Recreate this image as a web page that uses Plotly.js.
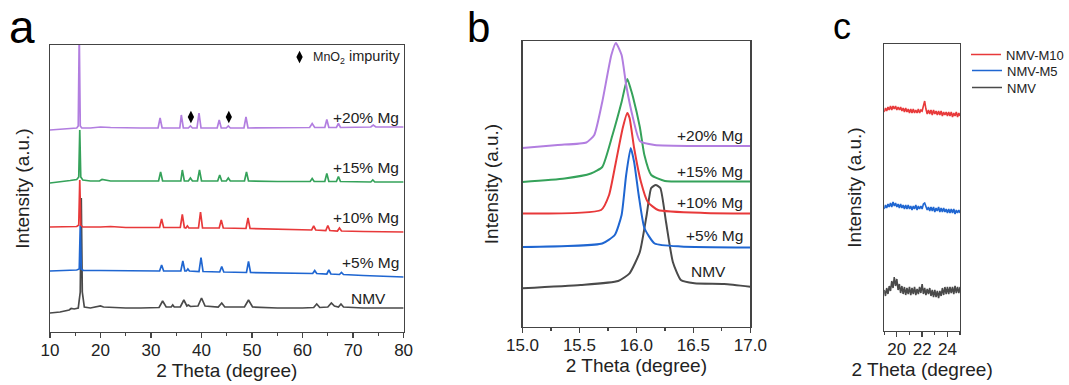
<!DOCTYPE html>
<html><head><meta charset="utf-8">
<script src="https://cdn.plot.ly/plotly-3.0.1.min.js"></script>
<style>html,body{margin:0;padding:0;background:#fff}#chart{width:1069px;height:385px}</style>
</head><body><div id="chart"></div>
<script>
// ---------- Panel a : full XRD patterns, 2θ 10–80° (offset intensity, a.u.) ----------
const aNMV_x = [10,12,13.8,14.2,14.8,15.6,16.0,16.2,16.4,16.8,18,19.5,20,20.6,22,25,28,31.6,32.3,33.0,34.0,34.3,34.6,35.8,36.5,37.1,37.4,37.8,39.3,40.0,40.7,43.3,44.0,44.6,48.5,49.3,50.1,55,60,62.2,62.8,63.4,65.0,65.7,66.3,67.1,67.6,68.1,72,76,80];
const aNMV_y = [19,20,22,23.5,23,24,40,134,40,25,24,25,26,25,24.5,24,24,24.5,31,25,25,27,25,25,32,26,27,25.5,26,34,26,25,29,25,25,32,25,24,24,24.5,28,24.5,25,29,26,25,28,25,24,24,24];

const aM5_x = [10,13,15.3,15.8,16.0,16.2,16.6,20,25,31.7,32.1,32.5,35.9,36.3,36.7,37.0,37.3,37.6,39.5,39.9,40.3,43.6,44.0,44.4,48.9,49.3,49.7,55,62.0,62.4,62.8,64.8,65.2,65.6,67.3,67.7,68.1,72,76,80];
const aM5_y = [61,61.5,62,63,107,63,61.5,61.5,61,61,67,61,61,71,61,61,63,61,60.5,74.5,60.5,60,65.5,60,59.5,70.5,59.5,59,58.5,61.5,58.5,58,62,58,57.5,59.5,57.5,56.5,55.5,55];

const aM10_x = [10,13,15.3,15.7,15.9,16.1,16.5,20,22,25,31.7,32.1,32.5,35.8,36.2,36.6,36.9,37.2,37.5,39.4,39.8,40.2,43.5,43.9,44.3,48.8,49.2,49.6,55,61.8,62.2,62.6,64.6,65.0,65.4,66.9,67.3,67.7,72,76,80];
const aM10_y = [105,105,105.5,107,152,107,105,105,105.5,104.5,104.5,113,104.5,104.5,117.5,104.5,104,106,104,104,120,104,104,112,104,103.5,114,103.5,103,102,106,102,101.5,106.5,101.5,101,104,101,100.5,100,100];

const aM15_x = [10,12,14,15.3,15.7,15.9,16.1,16.5,18,19.8,20.3,22,25,28,31.5,31.9,32.3,35.9,36.2,36.6,37.4,37.8,38.2,39.2,39.6,40.0,43.2,43.6,44.0,44.9,45.3,45.7,48.5,48.9,49.3,55,61.5,61.9,62.3,64.4,64.8,65.2,66.7,67.1,67.5,73.5,73.9,74.3,77,80];
const aM15_y = [149,150,151.5,152.5,155,202,155,152,151,151,152.5,151,151,151,151,160,151,151,162,151,151,154,151,151,162,151,151,157,151,151,154,151,151,160,151,150.5,150.5,153.5,150.5,150.5,158.5,150.5,150.5,155.5,150.5,150,152,150,150,150];

const aM20_x = [10,12,14,15.3,15.6,15.8,16.0,16.3,18,20,22,25,28,31.4,31.8,32.2,35.7,36.0,36.4,37.4,37.8,38.2,39.1,39.5,39.9,43.1,43.5,43.9,44.9,45.3,45.7,48.4,48.8,49.2,55,61.4,61.9,62.4,64.4,64.8,65.2,66.7,67.1,67.5,73.5,74.0,74.5,77,80];
const aM20_y = [202,203,203.5,204,206,300,206,204,204,205,204.5,204,204,204,214,204,204,217,204,204,206,204,204,219,204,204,212,204,204,206,204,204,215,204,204.5,204.5,208.5,204.5,204.5,212.5,204.5,204.5,208.5,204.5,205,207,205,205,205];

// MnO2 impurity markers (2θ) and their marker height
const mnoPeaks = [37.9, 45.4];
const mnoLevel = [215, 215];
const aLabels = ["NMV", "+5% Mg", "+10% Mg", "+15% Mg", "+20% Mg"];
const aLabelY = [34, 70, 115, 165, 215];

// ---------- Panel b : zoom on the (001) peak, 15–17° ----------
const bNMV_x = [15.0,15.51,15.84,15.94,16.03,16.09,16.13,16.17,16.21,16.26,16.32,16.39,16.51,16.77,17.0];
const bNMV_y = [38.7,42,46,53.7,75,112,139,142,139,105,65,47,43.7,43,40.3];
const bM5_x = [15.0,15.70,15.81,15.87,15.91,15.95,15.98,16.02,16.07,16.16,16.39,17.0];
const bM5_y = [80,83.5,92,112,152,179,165,132,99,83.5,80.5,79.5];
const bM10_x = [15.0,15.69,15.76,15.82,15.88,15.92,15.94,15.98,16.04,16.10,16.19,16.6,17.0];
const bM10_y = [113.5,117,132,165,199,214,209,179,145,125,117,114,113.5];
const bM15_x = [15.0,15.37,15.6,15.7,15.79,15.87,15.92,15.95,15.97,16.03,16.07,16.13,16.25,16.6,17.0];
const bM15_y = [145,148.5,153.5,160,192,225,248,238,230,200,172,152,146,145.5,145.5];
const bM20_x = [15.0,15.31,15.56,15.63,15.70,15.78,15.82,15.87,15.91,15.97,16.03,16.16,16.57,17.0];
const bM20_y = [179,182,184.5,192,225,272,284,272,242,209,186,182,181,181];
const bLabelY = [56, 92, 125, 156, 192];

// ---------- Panel c : 19–25° region ----------
const cTheta = [19.0,19.1,19.2,19.3,19.4,19.5,19.6,19.7,19.8,19.9,20.0,20.1,20.2,20.3,20.4,20.5,20.6,20.7,20.8,20.9,21.0,21.1,21.2,21.3,21.4,21.5,21.6,21.7,21.8,21.9,22.0,22.1,22.2,22.3,22.4,22.5,22.6,22.7,22.8,22.9,23.0,23.1,23.2,23.3,23.4,23.5,23.6,23.7,23.8,23.9,24.0,24.1,24.2,24.3,24.4,24.5,24.6,24.7,24.8,24.9,25.0];
const cM10 = [219,223,220,224,221,225,221,225,222,225,221,224,221,224,220,223,219,223,219,222,218,222,218,222,218,221,218,222,218,221,220,227,230,222,217,221,217,221,216,221,217,220,216,220,216,220,215,219,216,219,215,219,215,219,214,218,215,219,214,218,215];
const cM5 = [122,126,123,127,124,128,124,129,125,128,124,127,123,127,123,126,122,126,122,126,122,125,121,125,122,126,121,125,122,125,122,127,128,124,121,124,120,124,120,124,119,123,120,124,119,123,119,123,119,122,118,122,118,122,118,122,117,121,118,121,118];
const cNMV = [41,35,43,37,45,40,50,43,54,45,52,41,47,38,45,37,44,36,43,37,44,36,43,37,44,36,42,37,44,38,47,37,43,36,42,37,43,35,41,34,41,34,40,33,40,35,43,36,44,37,44,37,44,38,44,37,45,38,44,38,44];

const COL = {nmv:'#4a4a4a', m5:'#1f66d1', m10:'#e8393a', m15:'#35a25a', m20:'#b27ee0'};
const FONT = 'Liberation Sans, Arial, Helvetica, sans-serif';
const AX = '#444';

function line(x, y, color, xa, ya, w, extra) {
  return Object.assign({x:x, y:y, type:'scatter', mode:'lines', xaxis:xa, yaxis:ya,
    line:{color:color, width:w}, showlegend:false, hoverinfo:'skip'}, extra||{});
}
function sp(color) { return {line:{color:color, width:2, shape:'spline', smoothing:0.5}}; }

const traces = [
  line(aNMV_x, aNMV_y, COL.nmv, 'x', 'y', 1.7),
  line(aM5_x, aM5_y, COL.m5, 'x', 'y', 1.7),
  line(aM10_x, aM10_y, COL.m10, 'x', 'y', 1.7),
  line(aM15_x, aM15_y, COL.m15, 'x', 'y', 1.7),
  line(aM20_x, aM20_y, COL.m20, 'x', 'y', 1.7),
  {x: mnoPeaks, y: mnoLevel, type:'scatter', mode:'markers', xaxis:'x', yaxis:'y',
   marker:{symbol:'diamond-tall', size:9, color:'#000'}, showlegend:false, hoverinfo:'skip'},
  {x: [59.4], y: [275], type:'scatter', mode:'markers', xaxis:'x', yaxis:'y',
   marker:{symbol:'diamond-tall', size:9, color:'#000'}, showlegend:false, hoverinfo:'skip'},
  line(bNMV_x, bNMV_y, COL.nmv, 'x2', 'y2', 2, sp(COL.nmv)),
  line(bM5_x, bM5_y, COL.m5, 'x2', 'y2', 2, sp(COL.m5)),
  line(bM10_x, bM10_y, COL.m10, 'x2', 'y2', 2, sp(COL.m10)),
  line(bM15_x, bM15_y, COL.m15, 'x2', 'y2', 2, sp(COL.m15)),
  line(bM20_x, bM20_y, COL.m20, 'x2', 'y2', 2, sp(COL.m20)),
  line(cTheta, cNMV, COL.nmv, 'x3', 'y3', 1.6, {name:'NMV', showlegend:true, legend:'legend3'}),
  line(cTheta, cM5, COL.m5, 'x3', 'y3', 1.6, {name:'NMV-M5', showlegend:true, legend:'legend2'}),
  line(cTheta, cM10, COL.m10, 'x3', 'y3', 1.6, {name:'NMV-M10', showlegend:true, legend:'legend'}),
];

function xax(domain, range, dtick, tick0, minor, anchor) {
  return {domain:domain, range:range, anchor:anchor, dtick:dtick, tick0:tick0,
    ticks:'outside', ticklen:5, tickwidth:1.3, tickcolor:AX, ticklabelstandoff:-3,
    minor:{dtick:minor, ticks:'outside', ticklen:3, tickwidth:1.3, tickcolor:AX},
    showline:true, linecolor:AX, linewidth:1.3, mirror:true, showgrid:false, zeroline:false,
    tickfont:{size:17, color:'#222'},
    title:{text:'2 Theta (degree)', font:{size:19, color:'#222'}, standoff:4}};
}
function yax(domain, range, anchor, standoff) {
  return {domain:domain, range:range, anchor:anchor, showticklabels:false, ticks:'',
    showline:true, linecolor:AX, linewidth:1.3, mirror:true, showgrid:false, zeroline:false,
    title:{text:'Intensity (a.u.)', font:{size:19, color:'#222'}, standoff:standoff}};
}

const W = 1069, H = 385;
const annotations = [];
function panelLabel(t, px, py, size) {
  annotations.push({text:t, xref:'paper', yref:'paper', x:px/W, y:1-py/H, xanchor:'center', yanchor:'middle',
    showarrow:false, font:{size:size, color:'#000'}});
}
panelLabel('a', 22, 27, 46);
panelLabel('b', 479, 27, 42);
panelLabel('c', 843, 26, 36);

aLabels.forEach(function(t, i) {
  annotations.push({text:t, xref:'x', yref:'y', x: i === 0 ? 76.9 : 79.4, y:aLabelY[i], xanchor:'right', yanchor:'middle',
    showarrow:false, font:{size:15.5, color:'#222'}});
  annotations.push({text:t, xref:'x2', yref:'y2', x: i === 0 ? 16.8 : 16.95, y:bLabelY[i], xanchor:'right', yanchor:'middle',
    showarrow:false, font:{size:15.5, color:'#222'}});
});
annotations.push({text:'<span style="font-size:12.5px">MnO<sub>2</sub></span> impurity', xref:'x', yref:'y', x:61.6, y:275,
  xanchor:'left', yanchor:'middle', showarrow:false, font:{size:14.5, color:'#222'}});

function leg(topPx) {
  return {x:967/W, xanchor:'left', y:1-topPx/H, yanchor:'top',
    font:{size:13, color:'#222'}, bgcolor:'rgba(0,0,0,0)', borderwidth:0, itemwidth:30};
}

const layout = {
  width:W, height:H, margin:{l:0, r:0, t:0, b:0},
  paper_bgcolor:'#fff', plot_bgcolor:'#fff',
  font:{family:FONT, color:'#222'},
  xaxis: xax([50/W, 404/W], [10, 80], 10, 10, 5, 'y'),
  yaxis: yax([1-332/H, 1-45/H], [0, 287], 'x', 14),
  xaxis2: xax([523/W, 751/W], [15, 17], 0.5, 15, 0.25, 'y2'),
  yaxis2: yax([1-327/H, 1-41/H], [0, 286], 'x2', 17),
  xaxis3: xax([885/W, 961/W], [19, 25], 2, 20, 1, 'y3'),
  yaxis3: yax([1-331/H, 1-44/H], [0, 287], 'x3', 16),
  showlegend:true,
  legend: leg(39.5),
  legend2: leg(55.5),
  legend3: leg(72.5),
  annotations: annotations
};
layout.xaxis2.tickformat = '.1f';

Plotly.newPlot('chart', traces, layout, {displayModeBar:false, staticPlot:true});
</script></body></html>
